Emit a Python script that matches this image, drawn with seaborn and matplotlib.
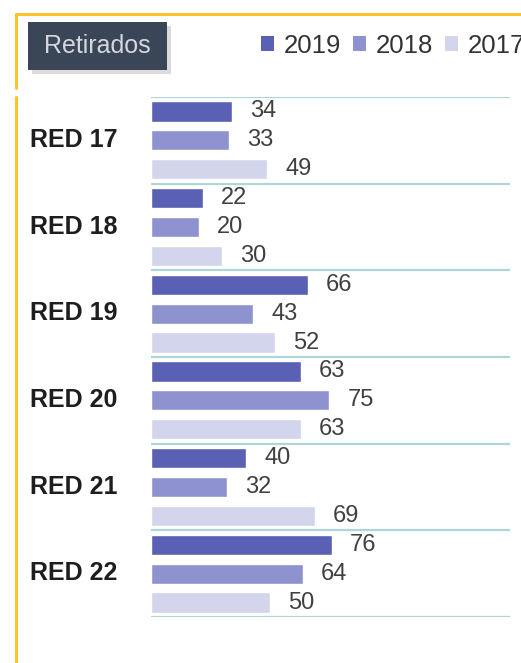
import matplotlib
matplotlib.use("Agg")
import matplotlib.pyplot as plt
from matplotlib import font_manager
from matplotlib.patches import Patch, Rectangle
from matplotlib.lines import Line2D
import matplotlib.transforms as mtransforms
import seaborn as sns
import pandas as pd
import numpy as np

# ---- data ----
categories = ["RED 17", "RED 18", "RED 19", "RED 20", "RED 21", "RED 22"]
years = ["2019", "2018", "2017"]
values_2019 = [34, 22, 66, 63, 40, 76]
values_2018 = [33, 20, 43, 75, 32, 64]
values_2017 = [49, 30, 52, 63, 69, 50]
colors = ["#5a60b4", "#8e92cf", "#d3d5ec"]
title_text = "Retirados"

sns.set_theme(style="white")

def pick(fams):
    for f in fams:
        try:
            font_manager.findfont(f, fallback_to_default=False)
            return f
        except Exception:
            pass
    return "DejaVu Sans"

narrow = pick(["Liberation Sans Narrow", "Liberation Sans", "DejaVu Sans"])
regular = pick(["Liberation Sans", "DejaVu Sans"])
plt.rcParams["font.family"] = [narrow, "DejaVu Sans"]

df = pd.DataFrame({
    "red": categories * 3,
    "year": [years[0]] * 6 + [years[1]] * 6 + [years[2]] * 6,
    "value": values_2019 + values_2018 + values_2017,
})

W, H = 521, 663
fig = plt.figure(figsize=(W / 100, H / 100), dpi=100)
ax = fig.add_axes([151 / W, 1 - 617 / H, (510 - 151) / W, (617 - 97) / H])

sns.barplot(data=df, y="red", x="value", hue="year", hue_order=years,
            order=categories, palette=colors, width=1.0, gap=0.3,
            orient="h", ax=ax, legend=False, saturation=1, errorbar=None)

ax.set_xlim(0, 151)
ax.set_ylim(len(categories) - 0.5, -0.5)
for s in ax.spines.values():
    s.set_visible(False)
ax.set_xticks([])
ax.set_xlabel("")
ax.set_ylabel("")
ax.tick_params(axis="y", length=0, pad=24)
shift = mtransforms.ScaledTranslation(0, 3 / 100, fig.dpi_scale_trans)
for lab in ax.get_yticklabels():
    lab.set_fontweight("bold")
    lab.set_fontsize(18)
    lab.set_color("#1e1e1e")
    lab.set_transform(lab.get_transform() + shift)

for b in np.arange(-0.5, len(categories), 1.0):
    ax.axhline(b, color="#aed6d6", lw=1.6, zorder=0)

for cont in ax.containers:
    ax.bar_label(cont, padding=13, fontsize=17, color="#404040")

# title box with shadow
fig.patches.append(Rectangle((32 / W, 1 - 74 / H), 139 / W, 48 / H,
                             transform=fig.transFigure, fc="#9a9a9a", alpha=0.35,
                             ec="none", zorder=1))
fig.patches.append(Rectangle((28 / W, 1 - 70 / H), 139 / W, 48 / H,
                             transform=fig.transFigure, fc="#3a4557",
                             ec="none", zorder=2))
fig.text(97 / W, 1 - 46 / H, title_text, ha="center", va="center",
         color="#d4d8de", fontsize=18, family=[regular, "DejaVu Sans"], zorder=3)

# yellow frame lines
yc = "#fcc42a"
fig.lines.append(Line2D([16 / W, 1], [1 - 14 / H, 1 - 14 / H], transform=fig.transFigure, color=yc, lw=2.2))
fig.lines.append(Line2D([16 / W, 16 / W], [1 - 14 / H, 1 - 88 / H], transform=fig.transFigure, color=yc, lw=2.2))
fig.lines.append(Line2D([16 / W, 16 / W], [1 - 97 / H, 0], transform=fig.transFigure, color=yc, lw=2.2))

# legend
handles = [Patch(facecolor=c, edgecolor="none") for c in colors]
fig.legend(handles, years, loc="upper left", bbox_to_anchor=(248 / W, 1 - 21 / H),
           ncol=3, frameon=False, fontsize=18.5, handlelength=0.5, handleheight=0.5,
           handletextpad=0.4, columnspacing=0.45, borderpad=0, labelcolor="#333333")

fig.savefig("out.png", dpi=100)
